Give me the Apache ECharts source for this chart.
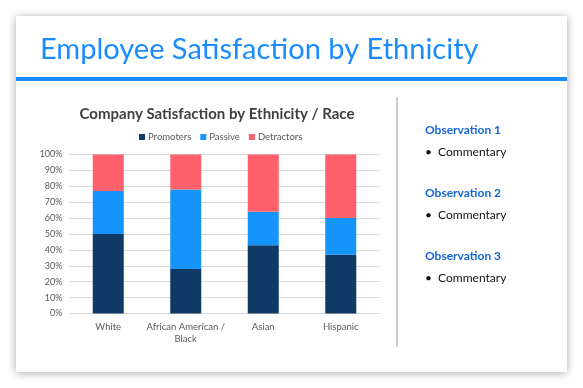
<!DOCTYPE html>
<html><head><meta charset="utf-8">
<script src="https://cdn.jsdelivr.net/npm/echarts@6/dist/echarts.min.js"></script>
<style>html,body{margin:0;padding:0;background:#fff}#c{width:583px;height:388px}</style>
</head><body><div id="c"></div>
<script>
const categories = ['White', 'African American /\nBlack', 'Asian', 'Hispanic'];
const promoters = [50, 28, 43, 37];
const passive = [27, 50, 21, 23];
const detractors = [23, 22, 36, 40];
const tickLabels = ['0%','10%','20%','30%','40%','50%','60%','70%','80%','90%','100%'];
const observations = ['Observation 1', 'Observation 2', 'Observation 3'];
const commentary = ['Commentary', 'Commentary', 'Commentary'];

const font = 'Lato, "Open Sans", sans-serif';
const chart = echarts.init(document.getElementById('c'), null, {renderer: 'canvas'});

const graphics = [
  {type:'rect', z:-10, shape:{x:16,y:16,width:551,height:356}, style:{fill:'#fff', shadowBlur:8, shadowColor:'rgba(0,0,0,0.35)', shadowOffsetY:1}},
  {type:'text', z:5, x:40, y:35, style:{text:'Employee Satisfaction by Ethnicity', font:'400 29px ' + font, fill:'#1a8cff'}},
  {type:'rect', z:5, shape:{x:16,y:77,width:551,height:4}, style:{fill:'#1a8cff'}},
  {type:'rect', z:5, shape:{x:396.5,y:97,width:1,height:250}, style:{fill:'#9a9a9a'}}
];
const obsY = [131, 194, 257];
observations.forEach((o,i) => {
  graphics.push({type:'text', z:5, x:425, y:obsY[i]-7, style:{text:o, font:'bold 12px ' + font, fill:'#1565d8'}});
  graphics.push({type:'text', z:5, x:425, y:obsY[i]+15, style:{text:'•  ' + commentary[i], font:'12px ' + font, fill:'#111'}});
});

chart.setOption({
  animation:false,
  title:{text:'Company Satisfaction by Ethnicity / Race', left:212, textAlign:'center', top:102,
    textStyle:{fontFamily:font, fontSize:15, fontWeight:'bold', color:'#404040'}},
  legend:{top:127, left:134, itemWidth:6, itemHeight:6, itemGap:9, icon:'rect',
    textStyle:{fontFamily:font, fontSize:9.5, color:'#595959', padding:[0,0,0,-2]},
    data:['Promoters','Passive','Detractors']},
  grid:{left:69.5, right:203.5, top:154.5, bottom:74.5, containLabel:false},
  xAxis:{type:'category', data:categories,
    axisLine:{lineStyle:{color:'#d9d9d9'}}, axisTick:{show:false},
    axisLabel:{interval:0, fontFamily:font, fontSize:9.5, color:'#595959', margin:7, lineHeight:12}},
  yAxis:{type:'value', min:0, max:100, interval:10,
    axisLabel:{fontFamily:font, fontSize:9, color:'#595959', margin:7, formatter:v=>tickLabels[Math.round(v/10)]},
    splitLine:{lineStyle:{color:'#d9d9d9'}}, axisLine:{show:false}, axisTick:{show:false}},
  series:[
    {name:'Promoters', type:'bar', stack:'s', data:promoters, barWidth:'40%', itemStyle:{color:'#0f3a66'}},
    {name:'Passive', type:'bar', stack:'s', data:passive, barWidth:'40%', itemStyle:{color:'#1594fc'}},
    {name:'Detractors', type:'bar', stack:'s', data:detractors, barWidth:'40%', itemStyle:{color:'#ff606c'}}
  ],
  graphic:graphics
});
</script></body></html>
